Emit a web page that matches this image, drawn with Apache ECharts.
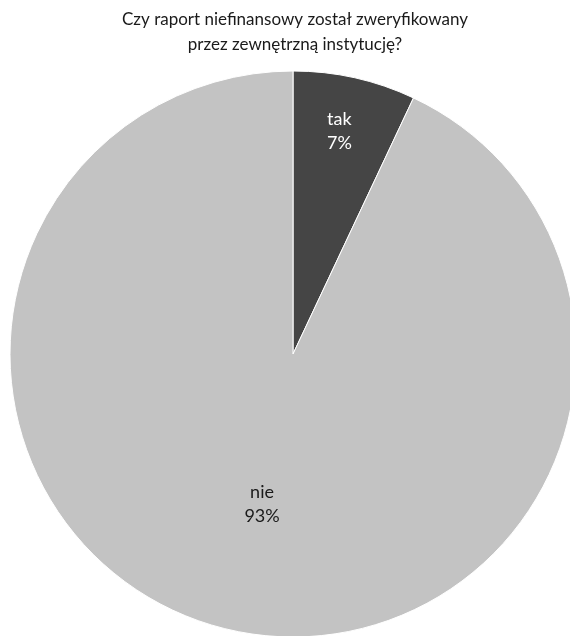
<!DOCTYPE html>
<html>
<head>
<meta charset="utf-8">
<script src="https://cdn.jsdelivr.net/npm/echarts@6/dist/echarts.min.js"></script>
<style>
  html, body { margin: 0; padding: 0; background: #fff; }
  #chart { width: 570px; height: 636px; }
</style>
</head>
<body>
<div id="chart"></div>
<script>
// Answers to the survey question and their shares (percent)
const categories = ['tak', 'nie'];
const shares = [7, 93];
const sliceColors = ['#454545', '#c3c3c3'];
const labelColors = ['#ffffff', '#1a1a1a'];
// How far out along the radius each label sits (fraction of the radius)
const labelRadialPos = [0.80, 0.55];
// Small nudges of each label from its radial spot, in pixels
const labelNudge = [[-3, -2], [3, -2]];

const center = [293, 354];
const radius = 283;
const total = shares.reduce((a, b) => a + b, 0);

function labelPoint(i) {
  let before = 0;
  for (let k = 0; k < i; k++) before += shares[k];
  const mid = (before + shares[i] / 2) / total * 2 * Math.PI;
  const r = labelRadialPos[i] * radius;
  return {
    x: center[0] + r * Math.sin(mid) + labelNudge[i][0],
    y: center[1] - r * Math.cos(mid) + labelNudge[i][1]
  };
}

const chart = echarts.init(document.getElementById('chart'), null, { renderer: 'canvas' });
chart.setOption({
  animation: false,
  backgroundColor: '#ffffff',
  title: {
    text: 'Czy raport niefinansowy został zweryfikowany\nprzez zewnętrzną instytucję?',
    left: 290,
    textAlign: 'center',
    top: 2,
    textStyle: {
      fontFamily: 'Lato',
      fontWeight: 'normal',
      fontSize: 17,
      lineHeight: 25,
      color: '#1a1a1a'
    }
  },
  series: [{
    type: 'pie',
    center: center,
    radius: [0, radius],
    startAngle: 90,
    clockwise: true,
    itemStyle: { borderColor: '#ffffff', borderWidth: 1 },
    labelLine: { show: false },
    label: {
      show: true,
      position: 'inside',
      fontFamily: 'Lato',
      fontSize: 18,
      lineHeight: 24,
      formatter: p => p.name + '\n' + p.value + '%'
    },
    labelLayout: params => {
      const pt = labelPoint(params.dataIndex);
      return { x: pt.x, y: pt.y, align: 'center', verticalAlign: 'middle' };
    },
    data: categories.map((name, i) => ({
      name: name,
      value: shares[i],
      itemStyle: { color: sliceColors[i] },
      label: { color: labelColors[i] }
    }))
  }]
});
</script>
</body>
</html>
